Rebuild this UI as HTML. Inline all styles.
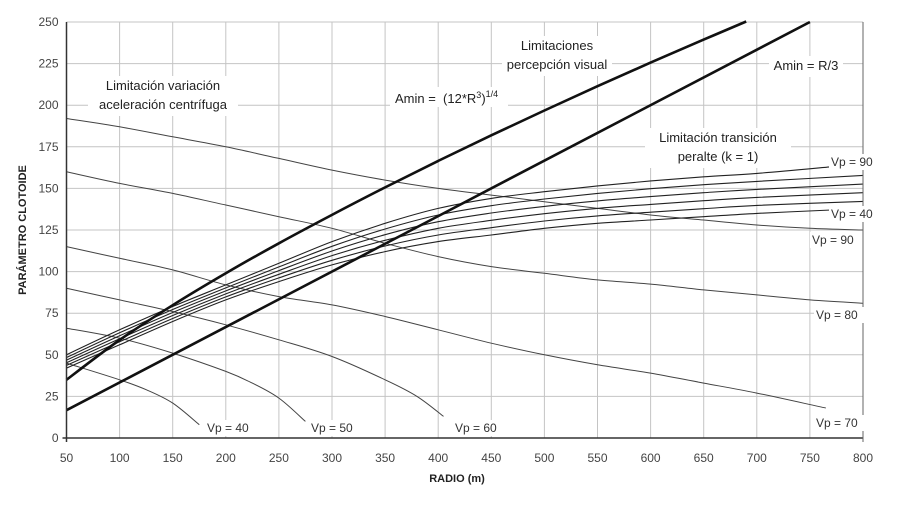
<!DOCTYPE html>
<html><head><meta charset="utf-8"><style>
html,body{margin:0;padding:0;background:#fff;}
svg text{font-family:"Liberation Sans",Arial,sans-serif;}
</style></head><body>
<svg id="chart" width="905" height="503" viewBox="0 0 905 503" xmlns="http://www.w3.org/2000/svg"></svg>
<script>
const xTicks=[50,100,150,200,250,300,350,400,450,500,550,600,650,700,750,800];
const yTicks=[0,25,50,75,100,125,150,175,200,225,250];
// minimum curves (thick)
const aminCubeR=[50,100,150,200,250,300,350,400,450,500,550,600,650,690];
const aminCubeV=[35,58.9,79.8,99,117,134.1,150.6,166.5,181.9,196.8,211.4,225.6,239.4,250.3];
const aminThirdR=[50,750];
const aminThirdV=[16.7,250];
// transition curves Vp 90..40
const transR=[50,100,150,200,250,300,350,400,450,500,550,600,650,700,770];
const transRLong=[50,100,150,200,250,300,350,400,450,500,550,600,650,700,800];
const trans90=[50,65,79,92,105,118,129,138,144,148,151.5,154.5,157,159,163];
const trans80=[48.4,63.2,77.2,90.2,102.8,115.2,125.6,134,139.6,143.6,147,149.8,152.2,154.2,157.8];
const trans70=[46.8,61.4,75.4,88.4,100.6,112.4,122.2,130,135.2,139.2,142.5,145.1,147.4,149.4,152.6];
const trans60=[45.2,59.6,73.6,86.6,98.4,109.6,118.8,126,130.8,134.8,138,140.4,142.6,144.6,147.4];
const trans50=[43.6,57.8,71.8,84.8,96.2,106.8,115.4,122,126.4,130.4,133.5,135.7,137.8,139.8,142.2];
const trans40=[42,56,70,83,94,104,112,118,122,126,129,131,133,135,137];
// acceleration curves
const accR=[50,100,150,200,250,300,350,400,450,500,550,600,650,700,750,800];
const acc90=[192,187,181,175,168,161,155,150,146,142,138,134,131,128,126,125];
const acc80=[160,153,147,140,133,126,117,109,103,99,95,92.5,89,86,83,81];
const acc70R=[50,100,150,200,250,300,350,400,450,500,550,600,650,700,765];
const acc70=[115,108,101,92,85,80,73,65,57,50,44,39,33,27,18];
const acc60R=[50,100,150,200,250,300,350,380,405];
const acc60=[90,83,76,68,59,49,35,25,13];
const acc50R=[50,100,150,200,225,250,275];
const acc50=[66,60,51,40,33,24,10];
const acc40R=[50,100,125,150,175];
const acc40=[45,35,29,21,8];

const NS="http://www.w3.org/2000/svg";
const svg=document.getElementById('chart');
const X0=66.5,X1=863,Y0=438,Y1=22;
function sx(v){return X0+(v-50)/750*(X1-X0);}
function sy(v){return Y0-v/250*(Y0-Y1);}
function mk(tag,attrs,parent){const e=document.createElementNS(NS,tag);for(const k in attrs)e.setAttribute(k,attrs[k]);(parent||svg).appendChild(e);return e;}

const grid=mk('g',{});


xTicks.forEach(t=>{const l=mk('line',{x1:sx(t),x2:sx(t),y1:Y1,y2:Y0,stroke:'#c4c4c4','stroke-width':1},grid);

});
yTicks.forEach(t=>{const l=mk('line',{x1:X0,x2:X1,y1:sy(t),y2:sy(t),stroke:'#c4c4c4','stroke-width':1},grid);

});

function series(xs,ys,w,name,col){
  const P=xs.map((x,i)=>[sx(x),sy(ys[i])]);
  let d='M'+P[0][0].toFixed(1)+','+P[0][1].toFixed(1);
  for(let i=0;i<P.length-1;i++){
    const p0=P[Math.max(i-1,0)],p1=P[i],p2=P[i+1],p3=P[Math.min(i+2,P.length-1)];
    const c1=[p1[0]+(p2[0]-p0[0])/6,p1[1]+(p2[1]-p0[1])/6];
    const c2=[p2[0]-(p3[0]-p1[0])/6,p2[1]-(p3[1]-p1[1])/6];
    d+=' C'+c1[0].toFixed(1)+','+c1[1].toFixed(1)+' '+c2[0].toFixed(1)+','+c2[1].toFixed(1)+' '+p2[0].toFixed(1)+','+p2[1].toFixed(1);
  }
  const p=mk('path',{d:d,fill:'none',stroke:col||'#222','stroke-width':w,'stroke-linejoin':'round'});
  
  
}
series(accR,acc90,1,'accel-vp90','#444');
series(accR,acc80,1,'accel-vp80','#444');
series(acc70R,acc70,1,'accel-vp70','#444');
series(acc60R,acc60,1,'accel-vp60','#444');
series(acc50R,acc50,1,'accel-vp50','#444');
series(acc40R,acc40,1,'accel-vp40','#444');
series(transR,trans90,1.1,'transition-vp90');
series(transRLong,trans80,1.1,'transition-vp80');
series(transRLong,trans70,1.1,'transition-vp70');
series(transRLong,trans60,1.1,'transition-vp60');
series(transRLong,trans50,1.1,'transition-vp50');
series(transR,trans40,1.1,'transition-vp40');
series(aminCubeR,aminCubeV,2.6,'amin-cube-root-curve','#111');
series(aminThirdR,aminThirdV,2.6,'amin-r-third-curve','#111');

const ax=mk('line',{x1:X0,x2:X0,y1:Y1,y2:Y0+4,stroke:'#333','stroke-width':1.5});


const bx=mk('line',{x1:X0-4,x2:X1,y1:Y0,y2:Y0,stroke:'#333','stroke-width':1.5});


const rb=mk('line',{x1:X1,x2:X1,y1:Y1,y2:Y0+4,stroke:'#666','stroke-width':1});



function txt(x,y,s,name,opt){
  opt=opt||{};
  const t=mk('text',{x:x,y:y,'font-size':opt.fs||12,fill:opt.fill||'#333','text-anchor':opt.anchor||'middle','font-weight':opt.fw||'normal'});
  t.textContent=s;
  
  
  if(opt.rot)t.setAttribute('transform','rotate(-90 '+x+' '+y+')');
  return t;
}
xTicks.forEach(t=>{txt(sx(t),462,String(t),'x-tick-label',{fs:12,fill:'#444'});});
yTicks.forEach(t=>{txt(X0-8,sy(t)+4,String(t),'y-tick-label',{fs:12,fill:'#444',anchor:'end'});});
txt(457,482,'RADIO (m)','x-axis-title',{fs:11,fw:'bold',fill:'#222'});
txt(26,230,'PARÁMETRO CLOTOIDE','y-axis-title',{fs:11,fw:'bold',fill:'#222',rot:true});

function label(x,y,lines,name,w,fs){
  const g=mk('g',{});
  
  
  const h=lines.length*19;
  mk('rect',{x:x-w/2,y:y-14,width:w,height:h+2,fill:'#fff'},g);
  lines.forEach((s,i)=>{const t=mk('text',{x:x,y:y+i*19,'font-size':fs||13,fill:'#222','text-anchor':'middle'},g);t.textContent=s;});
}
label(163,90,['Limitación variación','aceleración centrífuga'],'label-acceleration',150);
label(557,50,['Limitaciones','percepción visual'],'label-visual',110);
label(806,70,['Amin = R/3'],'label-amin-r3',74);
label(718,142,['Limitación transición','peralte (k = 1)'],'label-transition',146);
const fg=mk('g',{});


mk('rect',{x:390,y:87,width:118,height:20,fill:'#fff'},fg);
const ft=mk('text',{x:395,y:103,'font-size':13,fill:'#222'},fg);
ft.innerHTML='Amin = &#160;(12*R<tspan font-size="9" dy="-5">3</tspan><tspan dy="5">)</tspan><tspan font-size="9" dy="-6">1/4</tspan>';

function vp(x,y,s,name){
  const g=mk('g',{});
  
  
  mk('rect',{x:x-2,y:y-12,width:s.length*7.4,height:16,fill:'#fff'},g);
  const t=mk('text',{x:x,y:y,'font-size':12,fill:'#333'},g);t.textContent=s;
}
vp(207,432,'Vp = 40','label-vp40-accel');
vp(311,432,'Vp = 50','label-vp50-accel');
vp(455,432,'Vp = 60','label-vp60-accel');
vp(816,427,'Vp = 70','label-vp70-accel');
vp(816,319,'Vp = 80','label-vp80-accel');
vp(831,166,'Vp = 90','label-vp90-transition');
vp(831,218,'Vp = 40','label-vp40-transition');
vp(812,244,'Vp = 90','label-vp90-accel');
</script>
</body></html>
